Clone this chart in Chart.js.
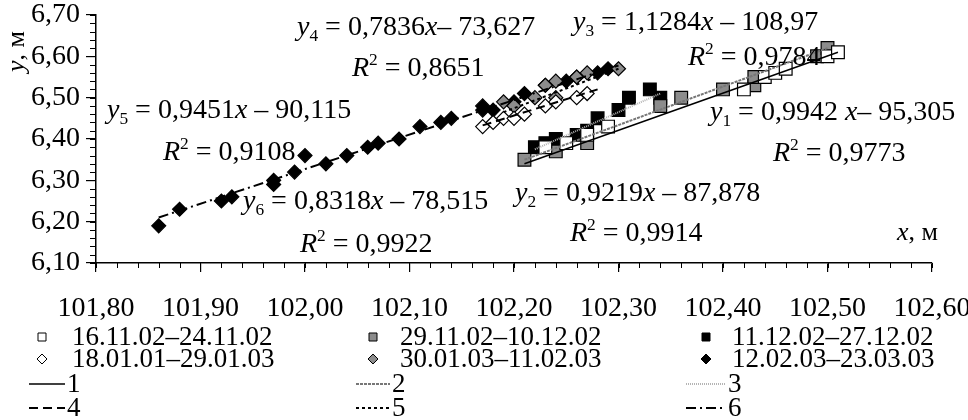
<!DOCTYPE html>
<html>
<head>
<meta charset="utf-8">
<script src="https://cdn.jsdelivr.net/npm/chart.js@4.4.0/dist/chart.umd.min.js"></script>
<style>
html, body { margin: 0; padding: 0; background: #fff; }
#wrap { width: 968px; height: 420px; position: relative; }
</style>
</head>
<body>
<div id="wrap"><canvas id="chart"></canvas></div>
<script>
const FONT = '"Liberation Serif", "Times New Roman", serif';

// x ticks / y ticks
const xTicks = [101.80, 101.90, 102.00, 102.10, 102.20, 102.30, 102.40, 102.50, 102.60];
const yTicks = [6.10, 6.20, 6.30, 6.40, 6.50, 6.60, 6.70];

// series names (legend)
const seriesNames = ['16.11.02–24.11.02', '29.11.02–10.12.02', '11.12.02–27.12.02',
                     '18.01.01–29.01.03', '30.01.03–11.02.03', '12.02.03–23.03.03'];

// 1: white squares
const x1 = [102.23, 102.25, 102.27, 102.29, 102.42, 102.44, 102.45, 102.46, 102.50, 102.51];
const y1 = [6.38, 6.39, 6.41, 6.43, 6.52, 6.55, 6.56, 6.57, 6.60, 6.61];
// 2: grey squares
const x2 = [102.21, 102.24, 102.27, 102.34, 102.36, 102.40, 102.43, 102.43, 102.49, 102.50];
const y2 = [6.35, 6.37, 6.39, 6.48, 6.50, 6.52, 6.53, 6.55, 6.60, 6.62];
// 3: black squares
const x3 = [102.22, 102.23, 102.24, 102.26, 102.27, 102.28, 102.30, 102.31, 102.33, 102.34];
const y3 = [6.38, 6.39, 6.40, 6.41, 6.42, 6.45, 6.47, 6.50, 6.52, 6.50];
// 4: white diamonds
const x4 = [102.17, 102.18, 102.19, 102.20, 102.21, 102.23, 102.24, 102.26, 102.27];
const y4 = [6.43, 6.44, 6.45, 6.45, 6.46, 6.48, 6.49, 6.50, 6.51];
// 5: grey diamonds
const x5 = [102.19, 102.20, 102.22, 102.23, 102.24, 102.24, 102.26, 102.27, 102.30];
const y5 = [6.49, 6.48, 6.50, 6.53, 6.50, 6.54, 6.55, 6.56, 6.57];
// 6: black diamonds
const x6 = [101.86, 101.88, 101.92, 101.93, 101.97, 101.97, 101.99, 102.00, 102.02, 102.04,
            102.06, 102.07, 102.09, 102.11, 102.13, 102.14, 102.17, 102.17, 102.18, 102.20,
            102.21, 102.23, 102.25, 102.26, 102.28, 102.29];
const y6 = [6.19, 6.23, 6.25, 6.26, 6.29, 6.30, 6.32, 6.36, 6.34, 6.36,
            6.38, 6.39, 6.40, 6.43, 6.44, 6.45, 6.47, 6.48, 6.47, 6.49,
            6.51, 6.53, 6.54, 6.55, 6.56, 6.57];

// trend lines (end points)
const tx1 = [102.21, 102.51], ty1 = [6.34, 6.61];
const tx2 = [102.21, 102.50], ty2 = [6.35, 6.62];
const tx3 = [102.22, 102.34], ty3 = [6.375, 6.51];
const tx4 = [102.17, 102.28], ty4 = [6.433, 6.52];
const tx5 = [102.19, 102.30], ty5 = [6.465, 6.57];
const tx6 = [101.86, 102.30], ty6 = [6.21, 6.578];

function pts(xs, ys) {
    return xs.map((x, i) => ({ x: x, y: ys[i] }));
}

function fmt(v) {
    return v.toFixed(2).replace('.', ',');
}

const GREY = '#8c8c8c';

const lineStyles = [
    { color: '#000', dash: [], width: 1.5 },
    { color: '#777', dash: [3, 1], width: 2 },
    { color: '#b4b4b4', dash: [1, 1], width: 2 },
    { color: '#000', dash: [9, 5], width: 2 },
    { color: '#000', dash: [3, 3], width: 2 },
    { color: '#000', dash: [10, 4, 2, 4], width: 2 }
];

const markers = [
    { style: 'rect', fill: '#fff', r: 9 },
    { style: 'rect', fill: GREY, r: 9 },
    { style: 'rect', fill: '#000', r: 9 },
    { style: 'rectRot', fill: '#fff', r: 7 },
    { style: 'rectRot', fill: GREY, r: 7 },
    { style: 'rectRot', fill: '#000', r: 7 }
];

const pointData = [pts(x1, y1), pts(x2, y2), pts(x3, y3), pts(x4, y4), pts(x5, y5), pts(x6, y6)];
const lineData = [pts(tx1, ty1), pts(tx2, ty2), pts(tx3, ty3), pts(tx4, ty4), pts(tx5, ty5), pts(tx6, ty6)];

let datasets = [];
lineData.forEach((d, i) => {
    datasets.push({
        label: String(i + 1),
        data: d,
        showLine: true,
        pointRadius: 0,
        borderColor: lineStyles[i].color,
        borderWidth: lineStyles[i].width,
        borderDash: lineStyles[i].dash,
        order: 0
    });
});
pointData.forEach((d, i) => {
    datasets.push({
        label: seriesNames[i],
        data: d,
        showLine: false,
        pointStyle: markers[i].style,
        pointRadius: markers[i].r,
        pointBackgroundColor: markers[i].fill,
        pointBorderColor: '#000',
        pointBorderWidth: 1.2,
        order: 1
    });
});

// equations on the plot
const notes = [
    { x: 297, y: 35, parts: [['y', 'i'], ['4', 'sub'], [' = 0,7836'], ['x', 'i'], ['– 73,627']] },
    { x: 352, y: 76, parts: [['R', 'i'], ['2', 'sup'], [' = 0,8651']] },
    { x: 573, y: 30, parts: [['y', 'i'], ['3', 'sub'], [' = 1,1284'], ['x', 'i'], [' – 108,97']] },
    { x: 688, y: 65, parts: [['R', 'i'], ['2', 'sup'], [' = 0,9784']] },
    { x: 710, y: 120, parts: [['y', 'i'], ['1', 'sub'], [' = 0,9942 '], ['x', 'i'], ['– 95,305']] },
    { x: 773, y: 161, parts: [['R', 'i'], ['2', 'sup'], [' = 0,9773']] },
    { x: 515, y: 201, parts: [['y', 'i'], ['2', 'sub'], [' = 0,9219'], ['x', 'i'], [' – 87,878']] },
    { x: 570, y: 241, parts: [['R', 'i'], ['2', 'sup'], [' = 0,9914']] },
    { x: 107, y: 118, parts: [['y', 'i'], ['5', 'sub'], [' = 0,9451'], ['x', 'i'], [' – 90,115']] },
    { x: 163, y: 160, parts: [['R', 'i'], ['2', 'sup'], [' = 0,9108']] },
    { x: 243, y: 209, parts: [['y', 'i'], ['6', 'sub'], [' = 0,8318'], ['x', 'i'], [' – 78,515']] },
    { x: 300, y: 252, parts: [['R', 'i'], ['2', 'sup'], [' = 0,9922']] }
];

function drawRich(ctx, x, y, parts, size) {
    let cx = x;
    parts.forEach(p => {
        let s = size, dy = 0, style = '';
        if (p[1] === 'i') style = 'italic ';
        if (p[1] === 'sub') { s = size * 0.62; dy = size * 0.22; }
        if (p[1] === 'sup') { s = size * 0.62; dy = -size * 0.38; }
        ctx.font = style + s + 'px ' + FONT;
        ctx.fillText(p[0], cx, y + dy);
        cx += ctx.measureText(p[0]).width;
    });
}

function drawMarker(ctx, m, x, y, r) {
    ctx.beginPath();
    if (m.style === 'rect') {
        ctx.rect(x - r, y - r, 2 * r, 2 * r);
    } else {
        ctx.moveTo(x, y - r - 1);
        ctx.lineTo(x + r + 1, y);
        ctx.lineTo(x, y + r + 1);
        ctx.lineTo(x - r - 1, y);
        ctx.closePath();
    }
    ctx.fillStyle = m.fill;
    ctx.fill();
    ctx.lineWidth = 1;
    ctx.strokeStyle = '#000';
    ctx.stroke();
}

const extras = {
    id: 'extras',
    afterDraw(chart) {
        const ctx = chart.ctx;
        const xs = chart.scales.x, ys = chart.scales.y;
        const a = chart.chartArea;
        ctx.save();
        ctx.strokeStyle = '#000';
        ctx.lineWidth = 1;
        ctx.setLineDash([]);
        // minor ticks
        for (let i = 0; i <= 40; i++) {
            const px = Math.round(xs.getPixelForValue(101.8 + i * 0.02)) + 0.5;
            ctx.beginPath(); ctx.moveTo(px, a.bottom); ctx.lineTo(px, a.bottom + 5); ctx.stroke();
        }
        for (let i = 0; i <= 30; i++) {
            const py = Math.round(ys.getPixelForValue(6.1 + i * 0.02)) + 0.5;
            ctx.beginPath(); ctx.moveTo(a.left, py); ctx.lineTo(a.left - 6, py); ctx.stroke();
        }

        ctx.fillStyle = '#000';
        ctx.textBaseline = 'alphabetic';
        ctx.textAlign = 'left';
        notes.forEach(n => drawRich(ctx, n.x, n.y, n.parts, 28));

        // axis titles
        drawRich(ctx, 897, 240, [['x', 'i'], [', м']], 26);
        ctx.save();
        ctx.translate(24, 72);
        ctx.rotate(-Math.PI / 2);
        drawRich(ctx, 0, 0, [['y', 'i'], [', м']], 26);
        ctx.restore();

        // legend
        const colSym = [42, 373, 706];
        const colText = [72, 400, 732];
        const rowY = [337, 359];
        ctx.font = '27px ' + FONT;
        ctx.textBaseline = 'middle';
        for (let i = 0; i < 6; i++) {
            const c = i % 3, r = Math.floor(i / 3);
            const m = markers[i];
            drawMarker(ctx, m, colSym[c], rowY[r], m.style === 'rect' ? 4 : 4);
            ctx.fillStyle = '#000';
            ctx.font = '27px ' + FONT;
            ctx.fillText(seriesNames[i], colText[c], rowY[r] + 1);
        }
        const lineX = [[29, 65], [356, 390], [686, 726]];
        const lineRow = [384, 408];
        for (let i = 0; i < 6; i++) {
            const c = i % 3, r = Math.floor(i / 3);
            const st = lineStyles[i];
            ctx.beginPath();
            ctx.setLineDash(st.dash);
            ctx.strokeStyle = st.color;
            ctx.lineWidth = st.width;
            ctx.moveTo(lineX[c][0], lineRow[r]);
            ctx.lineTo(lineX[c][1], lineRow[r]);
            ctx.stroke();
            ctx.setLineDash([]);
            ctx.fillStyle = '#000';
            ctx.fillText(String(i + 1), lineX[c][1] + 2, lineRow[r] + 1);
        }
        ctx.restore();
    }
};

Chart.defaults.font.family = FONT;
Chart.defaults.color = '#000';

new Chart(document.getElementById('chart'), {
    type: 'scatter',
    data: { datasets: datasets },
    options: {
        responsive: true,
        maintainAspectRatio: false,
        animation: false,
        devicePixelRatio: 1,
        layout: { padding: { left: 0, right: 36, top: 15, bottom: 0 } },
        plugins: { legend: { display: false }, tooltip: { enabled: false } },
        scales: {
            x: {
                type: 'linear',
                min: xTicks[0],
                max: xTicks[xTicks.length - 1],
                afterBuildTicks: s => { s.ticks = xTicks.map(v => ({ value: v })); },
                ticks: {
                    callback: v => fmt(v),
                    font: { size: 28, family: FONT },
                    color: '#000',
                    padding: 20,
                    maxRotation: 0,
                    autoSkip: false
                },
                grid: { drawOnChartArea: false, color: '#000', tickLength: 9, lineWidth: 1.2 },
                border: { color: '#000', width: 1.5 },
                afterFit: s => { s.height = 157; s.paddingLeft = 0; s.paddingRight = 0; }
            },
            y: {
                type: 'linear',
                min: yTicks[0],
                max: yTicks[yTicks.length - 1],
                afterBuildTicks: s => { s.ticks = yTicks.map(v => ({ value: v })); },
                ticks: {
                    callback: v => fmt(v),
                    font: { size: 28, family: FONT },
                    color: '#000',
                    padding: 6
                },
                grid: { drawOnChartArea: false, color: '#000', tickLength: 10, lineWidth: 1.2 },
                border: { color: '#000', width: 1.5 },
                afterFit: s => { s.width = 96; s.paddingTop = 0; s.paddingBottom = 0; }
            }
        }
    },
    plugins: [extras]
});
</script>
</body>
</html>
